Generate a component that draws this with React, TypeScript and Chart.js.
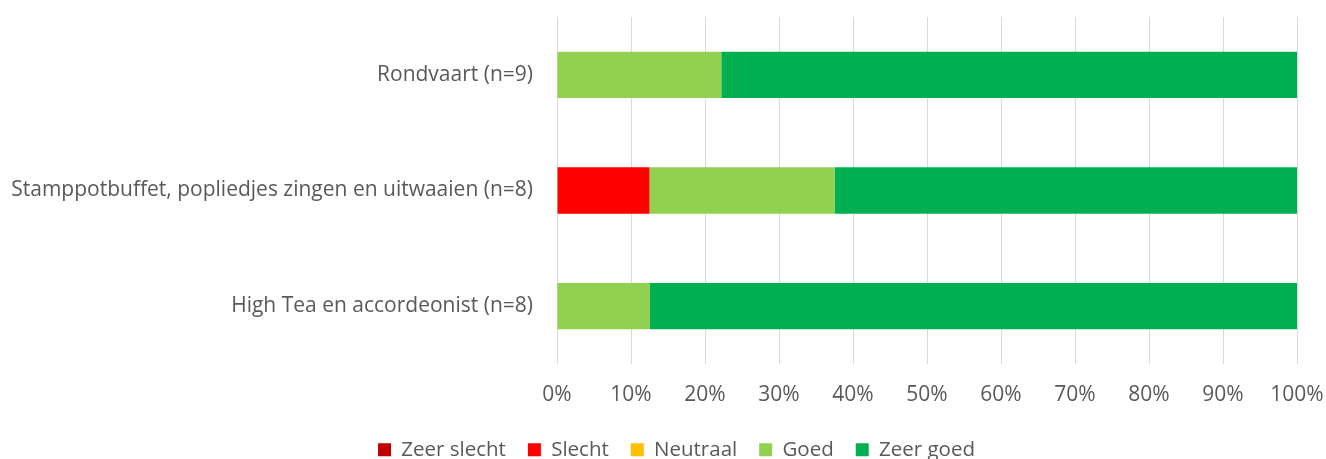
import React, { useEffect, useRef } from "react";
import { Chart, registerables } from "chart.js";

Chart.register(...registerables);

const categories = [
  "Rondvaart (n=9)",
  "Stamppotbuffet, popliedjes zingen en uitwaaien (n=8)",
  "High Tea en accordeonist (n=8)",
];
const seriesNames = ["Zeer slecht", "Slecht", "Neutraal", "Goed", "Zeer goed"];
const zeerSlecht = [0, 0, 0];
const slecht = [0, 12.5, 0];
const neutraal = [0, 0, 0];
const goed = [22.2, 25, 12.5];
const zeerGoed = [77.8, 62.5, 87.5];
const seriesColors = ["#C00000", "#FF0000", "#FFC000", "#92D050", "#00B050"];
const xTicks = [0, 10, 20, 30, 40, 50, 60, 70, 80, 90, 100];

const FONT = "'Open Sans', Lato, sans-serif";
const TEXT = "#595959";

const legendShift = {
  id: "legendShift",
  afterLayout(chart: any) {
    if (chart.legend) {
      chart.legend.left += 28;
      chart.legend.right += 28;
    }
  },
};

export default function App() {
  const ref = useRef<HTMLCanvasElement | null>(null);
  useEffect(() => {
    if (!ref.current) return;
    const values = [zeerSlecht, slecht, neutraal, goed, zeerGoed];
    const chart = new Chart(ref.current, {
      type: "bar",
      data: {
        labels: categories,
        datasets: seriesNames.map((name, i) => ({
          label: name,
          data: values[i],
          backgroundColor: seriesColors[i],
          borderWidth: 0,
          categoryPercentage: 1,
          barPercentage: 0.4,
        })),
      },
      plugins: [legendShift],
      options: {
        indexAxis: "y",
        responsive: true,
        maintainAspectRatio: false,
        animation: false,
        layout: { autoPadding: false, padding: { left: 0, right: 29, top: 17, bottom: 0 } },
        plugins: {
          tooltip: { enabled: false },
          legend: {
            position: "bottom",
            labels: {
              color: TEXT,
              font: { family: FONT, size: 20.5 },
              boxWidth: 13,
              boxHeight: 13,
              padding: 22,
            },
          },
        },
        scales: {
          x: {
            stacked: true,
            min: 0,
            max: 100,
            afterBuildTicks: (axis: any) => {
              axis.ticks = xTicks.map((v) => ({ value: v }));
            },
            afterFit: (axis: any) => {
              axis.height = 53.5;
              axis.paddingLeft = 0;
              axis.paddingRight = 0;
            },
            grid: { color: "#D9D9D9", lineWidth: 1, drawTicks: false },
            border: { display: false },
            ticks: {
              color: TEXT,
              font: { family: FONT, size: 21 },
              padding: 18,
              maxRotation: 0,
              callback: (v: any) => v + "%",
            },
          },
          y: {
            stacked: true,
            afterFit: (axis: any) => {
              axis.width = 557;
              axis.paddingTop = 0;
              axis.paddingBottom = 0;
            },
            grid: { display: false, drawTicks: false },
            border: { display: false },
            ticks: {
              color: TEXT,
              font: { family: FONT, size: 21 },
              padding: 24,
            },
          },
        },
      },
    });
    return () => chart.destroy();
  }, []);
  return (
    <div style={{ position: "fixed", left: 0, top: 0, width: 1326, height: 470 }}>
      <canvas ref={ref} />
    </div>
  );
}
